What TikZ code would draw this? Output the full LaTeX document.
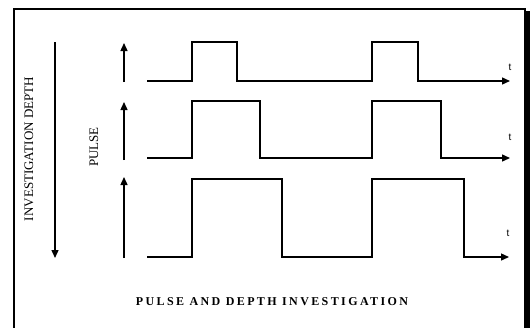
\documentclass[tikz,border=0pt]{standalone}
\usepackage{fontspec}
\setmainfont{Liberation Serif}
\newfontfamily\arialf{Liberation Sans}
\newfontfamily\titlef[LetterSpace=20]{Liberation Serif}
\usetikzlibrary{arrows.meta}
\begin{document}
\begin{tikzpicture}[x=1pt,y=-1pt,
  wave/.style={line width=1.4pt,-{Triangle[length=8pt,width=7pt]}},
  uparrow/.style={line width=1.4pt,-{Triangle[length=8pt,width=7pt]}},
  tlabel/.style={font=\arialf\fontsize{10}{11}\selectfont,inner sep=0pt},
  sidelabel/.style={font=\fontsize{13}{14}\selectfont,inner sep=0pt,rotate=90}]
\useasboundingbox (0,0) rectangle (530,327);
% frame with shadow
\draw[line width=2pt] (14,340) -- (14,9) -- (525,9) -- (525,340);
\fill (524,11) rectangle (530,340);
% depth arrow
\coordinate (d1) at (55,42);
\coordinate (d2) at (55,258);
\draw[uparrow] (d1) -- (d2);
\node[sidelabel] (depth) at (29,149) {INVESTIGATION DEPTH};
\node[sidelabel] (pulse) at (94,147) {PULSE};
% up arrows
\coordinate (a1s) at (124,82);  \coordinate (a1e) at (124,43);
\coordinate (a2s) at (124,160); \coordinate (a2e) at (124,102);
\coordinate (a3s) at (124,258); \coordinate (a3e) at (124,177);
\draw[uparrow] (a1s) -- (a1e);
\draw[uparrow] (a2s) -- (a2e);
\draw[uparrow] (a3s) -- (a3e);
% waveforms
\draw[wave] (147,81) -- (192,81) -- (192,42) -- (237,42) -- (237,81) -- (372,81) -- (372,42) -- (418,42) -- (418,81) -- (510,81);
\draw[wave] (147,158) -- (192,158) -- (192,101) -- (260,101) -- (260,158) -- (372,158) -- (372,101) -- (441,101) -- (441,158) -- (510,158);
\draw[wave] (147,257) -- (192,257) -- (192,179) -- (282,179) -- (282,257) -- (372,257) -- (372,179) -- (464,179) -- (464,257) -- (509,257);
% t labels
\node[tlabel] (t1) at (510,67) {t};
\node[tlabel] (t2) at (510,137) {t};
\node[tlabel] (t3) at (508,233) {t};
% title
\node[font=\titlef\bfseries\fontsize{12}{13}\selectfont,inner sep=0pt] (title) at (272,302) {PULSE AND DEPTH INVESTIGATION};
\end{tikzpicture}
\end{document}
